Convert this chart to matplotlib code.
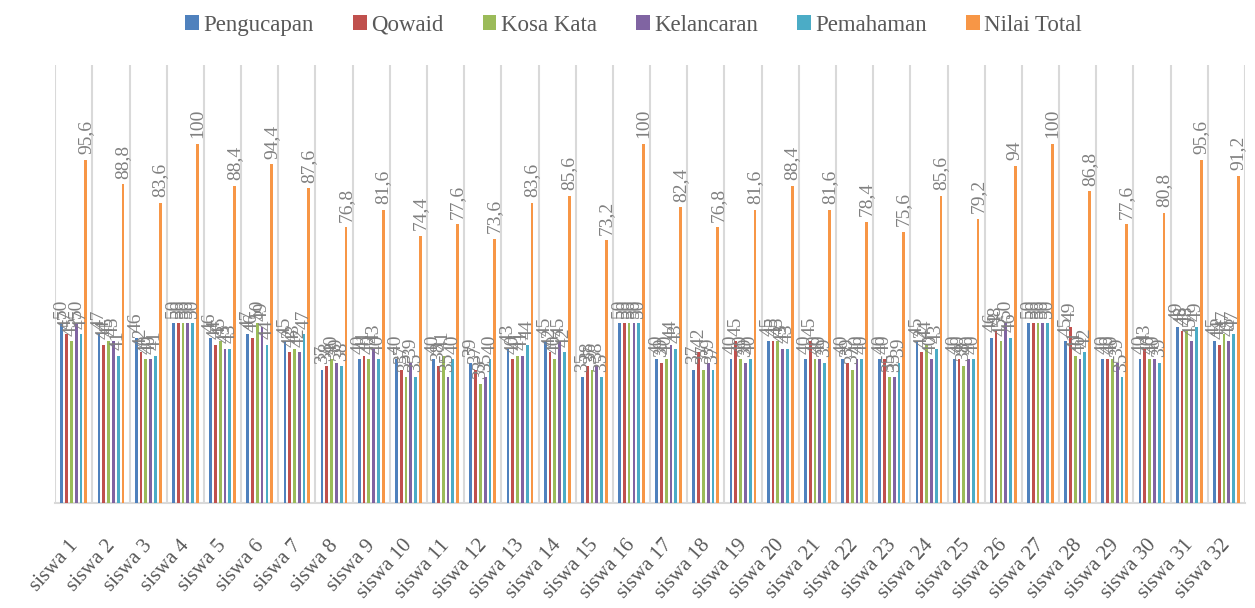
import numpy as np
import matplotlib.pyplot as plt
import matplotlib.transforms as mtransforms

siswa = ["siswa %d" % i for i in range(1, 33)]

pengucapan = [50, 47, 46, 50, 46, 47, 45, 37, 40, 40, 40, 39, 43, 45, 35, 50,
              40, 37, 40, 45, 40, 40, 40, 45, 40, 46, 50, 45, 40, 40, 49, 45]
qowaid     = [47, 44, 42, 50, 44, 46, 42, 38, 41, 37, 38, 37, 40, 42, 38, 50,
              39, 42, 45, 45, 45, 39, 40, 42, 40, 48, 50, 49, 40, 43, 48, 44]
kosa_kata  = [45, 45, 40, 50, 45, 50, 43, 40, 40, 35, 41, 33, 41, 40, 37, 50,
              40, 37, 40, 45, 40, 37, 35, 44, 38, 45, 50, 41, 40, 40, 48, 47]
kelancaran = [50, 45, 40, 50, 43, 49, 42, 39, 43, 39, 35, 35, 41, 45, 38, 50,
              44, 39, 39, 43, 40, 40, 35, 40, 40, 50, 50, 40, 39, 40, 45, 45]
pemahaman  = [47, 41, 41, 50, 43, 44, 47, 38, 40, 35, 40, 40, 44, 42, 35, 50,
              43, 37, 40, 43, 39, 40, 39, 43, 40, 46, 50, 42, 35, 39, 49, 47]
nilai_total = [95.6, 88.8, 83.6, 100, 88.4, 94.4, 87.6, 76.8, 81.6, 74.4, 77.6, 73.6,
               83.6, 85.6, 73.2, 100, 82.4, 76.8, 81.6, 88.4, 81.6, 78.4, 75.6, 85.6,
               79.2, 94, 100, 86.8, 77.6, 80.8, 95.6, 91.2]

series = [
    ("Pengucapan", pengucapan, "#4F81BD"),
    ("Qowaid", qowaid, "#C0504D"),
    ("Kosa Kata", kosa_kata, "#9BBB59"),
    ("Kelancaran", kelancaran, "#8064A2"),
    ("Pemahaman", pemahaman, "#4BACC6"),
    ("Nilai Total", nilai_total, "#F79646"),
]

plt.rcParams['font.family'] = ['Liberation Serif', 'DejaVu Serif']

fig = plt.figure(figsize=(12.55, 6.08), dpi=100)
ax = fig.add_axes([0.044, 0.173, 0.948, 0.72])

x = np.arange(len(siswa))
slot = 0.129
width = 0.075

def fmt(v):
    if float(v).is_integer():
        return "%d" % v
    return ("%.1f" % v).replace(".", ",")

for i, (name, vals, col) in enumerate(series):
    pos = x + (i - 2.5) * slot
    ax.bar(pos, vals, width, color=col, label=name, zorder=3)
    for px, v in zip(pos, vals):
        ax.annotate(fmt(v), (px, v), xytext=(0, 4), textcoords="offset points",
                    rotation=90, ha="center", va="bottom", fontsize=14,
                    color="#808080", zorder=4)

ax.set_xlim(-0.5, len(siswa) - 0.5)
ax.set_ylim(0, 122)
ax.set_yticks([])
for b in np.arange(-0.5, len(siswa), 1.0):
    ax.axvline(b, color="#d9d9d9", lw=1.5, zorder=1)

for s in ["top", "left", "right"]:
    ax.spines[s].set_visible(False)
ax.spines["bottom"].set_color("#d9d9d9")
ax.spines["bottom"].set_linewidth(1.5)

ax.set_xticks(x)
ax.set_xticklabels(siswa, rotation=48, ha="right", rotation_mode="anchor",
                   fontsize=15, color="#595959")
ax.tick_params(axis="x", length=0, pad=24)
shift = mtransforms.ScaledTranslation(-6 / 100, 0, fig.dpi_scale_trans)
for lab in ax.get_xticklabels():
    lab.set_transform(lab.get_transform() + shift)

fig.legend(loc="upper center", bbox_to_anchor=(0.505, 1.01), ncol=6, frameon=False,
           fontsize=16.5, handlelength=0.6, handleheight=0.6, handletextpad=0.2,
           columnspacing=1.7, labelcolor="#595959")

fig.savefig("out.png", dpi=100)
